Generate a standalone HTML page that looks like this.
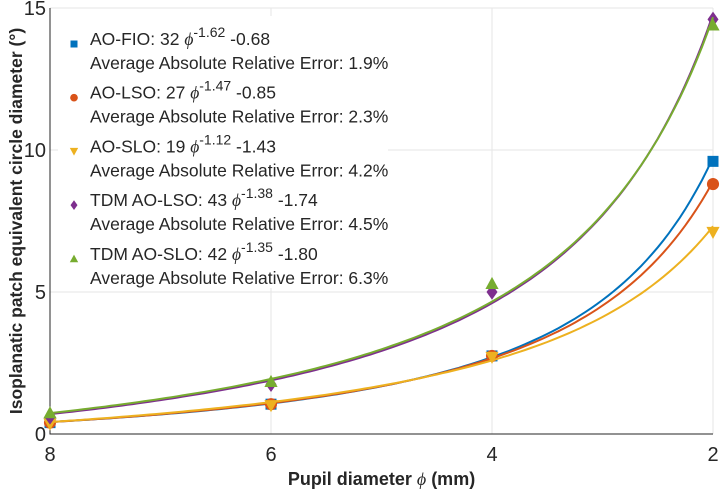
<!DOCTYPE html>
<html><head><meta charset="utf-8"><style>
body{margin:0;background:#fff;}
svg{display:block;font-family:"Liberation Sans",sans-serif;}
</style></head><body>
<svg id="chart" width="723" height="491"></svg>
<script>
const xTicks=[8,6,4,2];
const yTicks=[0,5,10,15];
const pupil=[8,6,4,2];
const seriesNames=["AO-FIO","AO-LSO","AO-SLO","TDM AO-LSO","TDM AO-SLO"];
const coefA=[32,27,19,43,42];
const coefB=[-1.62,-1.47,-1.12,-1.38,-1.35];
const coefC=[-0.68,-0.85,-1.43,-1.74,-1.80];
const errs=["1.9%","2.3%","4.2%","4.5%","6.3%"];
const fioVals=[0.4,1.05,2.75,9.6];
const lsoVals=[0.4,1.05,2.75,8.8];
const sloVals=[0.35,1.0,2.7,7.1];
const tdmLsoVals=[0.6,1.75,5.0,14.6];
const tdmSloVals=[0.75,1.85,5.3,14.4];
const allVals=[fioVals,lsoVals,sloVals,tdmLsoVals,tdmSloVals];
const colors=["#0072BD","#D95319","#EDB120","#7E2F8E","#77AC30"];
const markers=["square","circle","tridown","diamond","triup"];

const L=50,R=713,T=8,B=434;
const xs=v=>L+(8-v)/(8-2)*(R-L);
const ys=v=>B-v/15*(B-T);
const NS="http://www.w3.org/2000/svg";
const svg=document.getElementById('chart');
function mk(tag,attrs,parent){const e=document.createElementNS(NS,tag);for(const k in attrs)e.setAttribute(k,attrs[k]);(parent||svg).appendChild(e);return e;}

xTicks.forEach(t=>{const l=mk('line',{x1:xs(t),x2:xs(t),y1:T,y2:B,stroke:'#e6e6e6','stroke-width':1});

});
yTicks.forEach(t=>{const l=mk('line',{x1:L,x2:R,y1:ys(t),y2:ys(t),stroke:'#e6e6e6','stroke-width':1});

});
const ax=mk('path',{d:`M${L},${T}V${B}H${R}`,fill:'none',stroke:'#262626','stroke-width':1});


xTicks.forEach(t=>{const tx=mk('text',{x:xs(t),y:B+27,'text-anchor':'middle','font-size':20,fill:'#262626'});tx.textContent=t;

});
yTicks.forEach(t=>{const tx=mk('text',{x:L-4,y:ys(t)+7,'text-anchor':'end','font-size':20,fill:'#262626'});tx.textContent=t;

});
const xl=mk('text',{x:(L+R)/2,y:485,'text-anchor':'middle','font-size':18,'font-weight':'bold',fill:'#262626'});
xl.innerHTML='Pupil diameter <tspan font-style="italic" font-weight="normal" font-family="Liberation Serif">ϕ</tspan> (mm)';


const yl=mk('text',{transform:`translate(22,${(T+B)/2}) rotate(-90)`,'text-anchor':'middle','font-size':17.5,'font-weight':'bold',fill:'#262626'});
yl.textContent='Isoplanatic patch equivalent circle diameter (°)';



function marker(type,cx,cy,c,s,parent){
  if(type==='square')return mk('rect',{x:cx-s,y:cy-s,width:2*s,height:2*s,fill:c},parent);
  if(type==='circle')return mk('circle',{cx,cy,r:s*1.1,fill:c},parent);
  if(type==='tridown')return mk('polygon',{points:`${cx-s*1.2},${cy-s} ${cx+s*1.2},${cy-s} ${cx},${cy+s*1.2}`,fill:c},parent);
  if(type==='triup')return mk('polygon',{points:`${cx-s*1.2},${cy+s} ${cx+s*1.2},${cy+s} ${cx},${cy-s*1.2}`,fill:c},parent);
  return mk('polygon',{points:`${cx},${cy-s*1.4} ${cx+s},${cy} ${cx},${cy+s*1.4} ${cx-s},${cy}`,fill:c},parent);
}
seriesNames.forEach((n,i)=>{
  const g=mk('g',{});
  
  
  let d='';
  for(let k=0;k<=120;k++){const p=8-6*k/120;const v=coefA[i]*Math.pow(p,coefB[i])+coefC[i];d+=(k?'L':'M')+xs(p).toFixed(1)+','+ys(v).toFixed(1);}
  const pa=mk('path',{d,fill:'none',stroke:colors[i],'stroke-width':2},g);
  
  
  allVals[i].forEach((v,j)=>{const m=marker(markers[i],xs(pupil[j]),ys(v),colors[i],5.5,g);
    
    });
});
const lg=mk('g',{});


mk('rect',{x:58,y:16,width:330,height:272,fill:'#fff'},lg);
seriesNames.forEach((n,i)=>{
  const y0=38+i*53.7;
  const m=marker(markers[i],74,y0+6,colors[i],3.5,lg);
  
  
  const t1=mk('text',{x:90,y:y0+7,'font-size':17.5,fill:'#262626'},lg);
  t1.innerHTML=`${n}: ${coefA[i]} <tspan font-style="italic" font-family="Liberation Serif">ϕ</tspan><tspan dy="-8" font-size="14">${coefB[i].toFixed(2)}</tspan><tspan dy="8"> ${coefC[i].toFixed(2)}</tspan>`;
  
  
  const t2=mk('text',{x:90,y:y0+31,'font-size':17.5,fill:'#262626'},lg);
  t2.textContent='Average Absolute Relative Error: '+errs[i];
  
  
});
</script>
</body></html>
